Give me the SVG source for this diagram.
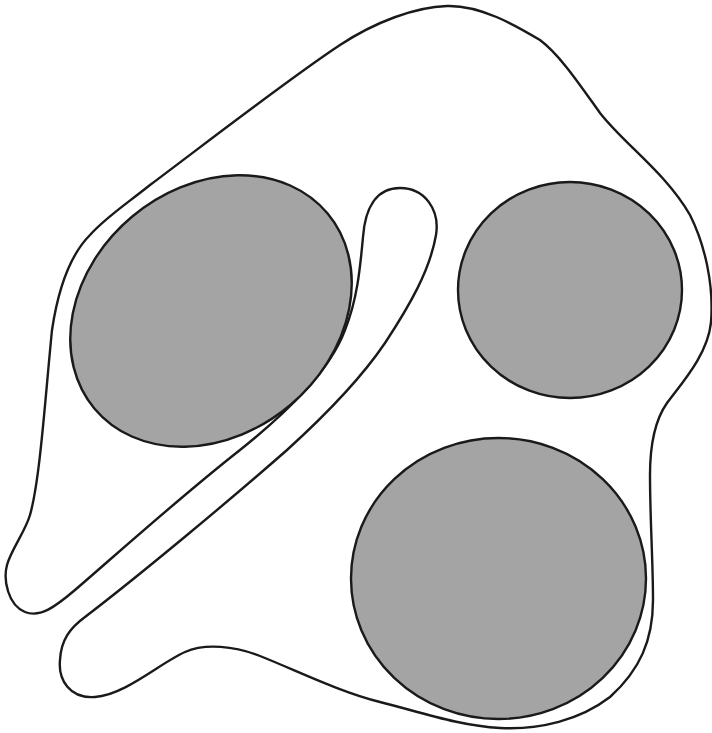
<svg xmlns="http://www.w3.org/2000/svg" width="712" height="733" viewBox="0 0 712 733">
<style>
.line{fill:none;stroke:#1a1a1a;stroke-width:2.4;stroke-linejoin:round}
.blob{fill:#a3a4a3;stroke:#1a1a1a;stroke-width:2.4}
</style>
<rect width="712" height="733" fill="#ffffff"/>
<g id="outline">
<path class="line" d="M 447,6 C 480,5 515,25 540,40 C 560,55 580,85 600,113 C 625,145 665,172 690,215 C 705,245 714,285 711,322 C 708,355 680,385 667,403 C 655,420 650,445 650,475 C 650,520 653,560 653,600 C 653,640 640,670 610,697 C 580,720 540,730 500,728 C 460,726 420,712 380,702 C 340,692 300,672 260,656 C 235,646 205,643 185,652 C 160,663 125,695 95,697 C 70,699 58,680 60,660 C 61,640 70,628 85,617 C 140,575 230,500 287,450 C 320,420 360,380 385,343 C 410,305 430,270 436,235 C 440,210 425,188 400,188 C 375,188 365,210 363,237 C 360,270 357,300 345,330 C 330,370 290,410 240,450 C 180,497 110,560 75,590 C 55,607 40,618 25,612 C 8,605 3,580 7,565 C 11,550 25,532 30,515 C 40,480 45,400 52,330 C 58,290 70,255 90,235 C 105,218 125,205 150,185 C 210,140 290,78 340,45 C 375,22 415,7 447,6 Z"/>
</g>
<g id="left-body">
<ellipse class="blob" cx="211" cy="311" rx="152" ry="123" transform="rotate(-40 211 311)"/>
</g>
<g id="right-body">
<ellipse class="blob" cx="570" cy="290" rx="112" ry="108"/>
</g>
<g id="bottom-body">
<ellipse class="blob" cx="498.5" cy="578.5" rx="147.5" ry="140.5"/>
</g>
</svg>
